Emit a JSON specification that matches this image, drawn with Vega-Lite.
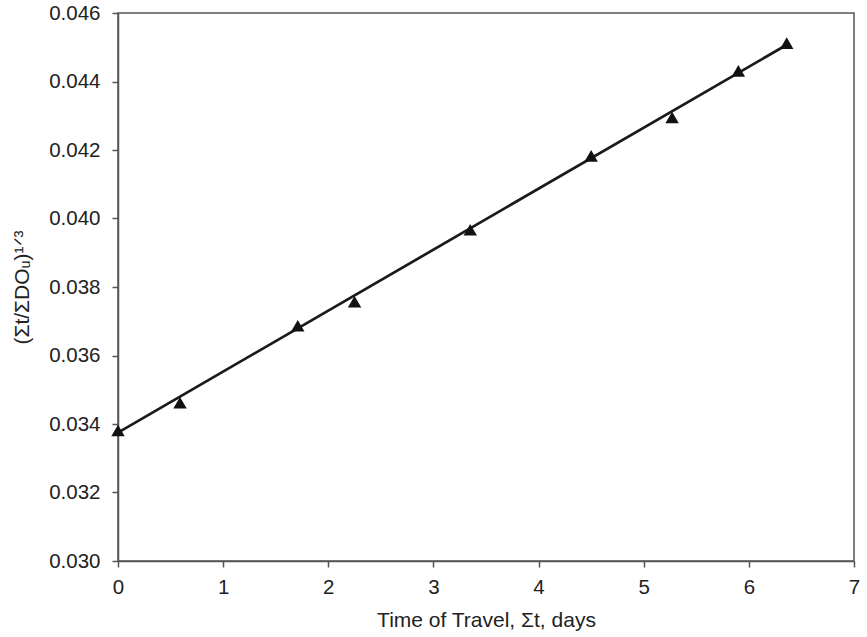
{
  "$schema": "https://vega.github.io/schema/vega-lite/v6.json",
  "width": 736,
  "height": 548,
  "autosize": {"type": "none"},
  "padding": {"left": 118, "top": 13, "right": 13, "bottom": 76},
  "background": "white",
  "config": {
    "view": {"stroke": "#555555", "strokeWidth": 1.5},
    "font": "Liberation Sans",
    "axis": {
      "grid": false,
      "labelFlush": false,
      "labelOverlap": false,
      "domainColor": "#555555",
      "domainWidth": 1.5,
      "tickColor": "#555555",
      "tickWidth": 1.5,
      "tickSize": 6,
      "labelFont": "Liberation Sans",
      "labelFontSize": 20.5,
      "labelColor": "#222222",
      "titleFont": "Liberation Sans",
      "titleFontSize": 21,
      "titleFontWeight": "normal",
      "titleColor": "#222222"
    }
  },
  "datasets": {
    "pts": [
      {"t": 0.0, "v": 0.03381},
      {"t": 0.59, "v": 0.03462},
      {"t": 1.71, "v": 0.03687},
      {"t": 2.25, "v": 0.03757},
      {"t": 3.35, "v": 0.03967},
      {"t": 4.50, "v": 0.04183},
      {"t": 5.27, "v": 0.04295},
      {"t": 5.90, "v": 0.04431},
      {"t": 6.36, "v": 0.04512}
    ],
    "fit": [
      {"t": 0.0, "v": 0.03375},
      {"t": 6.32, "v": 0.04500}
    ]
  },
  "layer": [
    {
      "data": {"name": "fit"},
      "mark": {"type": "line", "color": "#1a1a1a", "strokeWidth": 2.7},
      "encoding": {
        "x": {
          "field": "t", "type": "quantitative",
          "scale": {"domain": [0, 7], "nice": false},
          "axis": {"values": [0, 1, 2, 3, 4, 5, 6, 7], "format": "d", "title": "Time of Travel, Σt, days", "titlePadding": 12, "labelPadding": 10}
        },
        "y": {
          "field": "v", "type": "quantitative",
          "scale": {"domain": [0.030, 0.046], "nice": false, "zero": false},
          "axis": {"values": [0.030, 0.032, 0.034, 0.036, 0.038, 0.040, 0.042, 0.044, 0.046], "format": ".3f", "title": "(Σt/ΣDOᵤ)¹ᐟ³", "titlePadding": 16, "labelPadding": 12}
        }
      }
    },
    {
      "data": {"name": "pts"},
      "mark": {"type": "point", "shape": "triangle-up", "filled": true, "color": "#111111", "opacity": 1, "size": 180},
      "encoding": {
        "x": {"field": "t", "type": "quantitative"},
        "y": {"field": "v", "type": "quantitative"}
      }
    }
  ]
}
